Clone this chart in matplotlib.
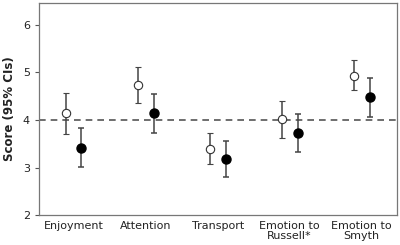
import numpy as np
import matplotlib; matplotlib.use("Agg")
import matplotlib.pyplot as plt

categories = ["Enjoyment", "Attention", "Transport", "Emotion to\nRussell*", "Emotion to\nSmyth"]
open_mean = [4.14, 4.73, 3.40, 4.01, 4.93]
open_lo = [3.70, 4.35, 3.08, 3.63, 4.62]
open_hi = [4.57, 5.12, 3.73, 4.40, 5.26]
fill_mean = [3.42, 4.14, 3.18, 3.72, 4.48]
fill_lo = [3.02, 3.73, 2.80, 3.32, 4.07]
fill_hi = [3.84, 4.54, 3.56, 4.13, 4.88]
yticks = [2, 3, 4, 5, 6]

x = np.arange(len(categories))
fig = plt.figure(figsize=(4, 2.45), dpi=100)
ax = fig.add_axes([0.0975, 0.122, 0.895, 0.866])

def err(m, lo, hi):
    m = np.array(m); return [m - np.array(lo), np.array(hi) - m]

ax.axhline(4, color="#555555", ls=(0, (4, 3)), lw=1.2, zorder=1)
ax.errorbar(x - 0.11, open_mean, yerr=err(open_mean, open_lo, open_hi), fmt="o",
            mfc="white", mec="#333333", mew=0.8, ms=6, ecolor="#444444",
            elinewidth=1.1, capsize=2, capthick=1.1, zorder=3)
ax.errorbar(x + 0.11, fill_mean, yerr=err(fill_mean, fill_lo, fill_hi), fmt="o",
            mfc="black", mec="black", ms=6.5, ecolor="#444444",
            elinewidth=1.1, capsize=2, capthick=1.1, zorder=3)

ax.set_xlim(-0.48, 4.49)
ax.set_ylim(2, 6.46)
ax.set_yticks(yticks)
ax.set_xticks(x)
ax.set_xticklabels(categories, fontsize=8, linespacing=1.0, color="#222222")
ax.tick_params(axis="x", length=0, pad=4)
ax.tick_params(axis="y", labelsize=8, length=3, width=0.8, color="#555555", labelcolor="#222222")
ax.set_ylabel("Score (95% CIs)", fontsize=8.5, fontweight="bold", labelpad=5, color="#222222")
for s in ax.spines.values():
    s.set_color("#777777"); s.set_linewidth(0.9)
fig.savefig("out.png", dpi=100)
